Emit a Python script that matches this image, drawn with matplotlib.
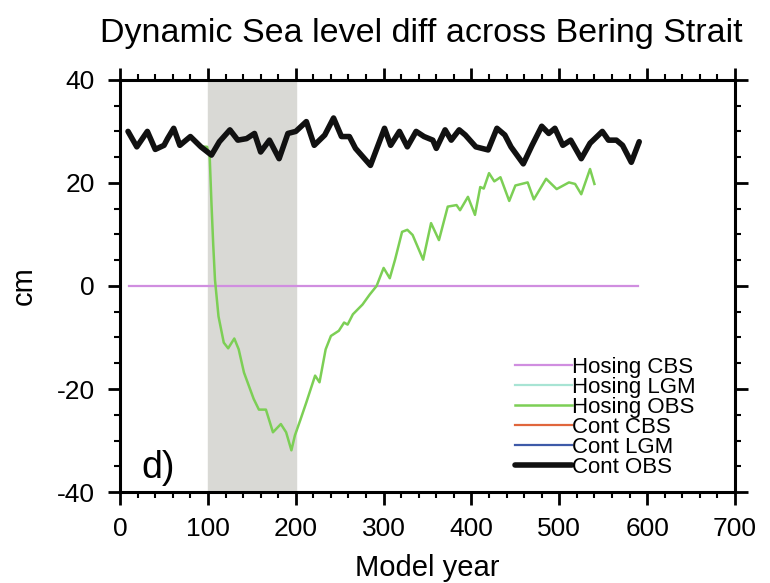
import numpy as np
import matplotlib
matplotlib.use('Agg')
import matplotlib.pyplot as plt

plt.rcParams['font.family'] = ['Liberation Sans', 'DejaVu Sans']

# Cont OBS (black)
cont_obs_years = [9, 19, 31, 40, 50, 54, 61, 68, 80, 92, 104, 113, 125, 134, 144, 153, 160, 170, 181, 191,
                  200, 212, 221, 233, 243, 252, 261, 268, 285, 301, 308, 318, 327, 337, 346, 356, 360, 370,
                  377, 386, 393, 405, 419, 429, 438, 445, 459, 469, 480, 488, 495, 504, 513, 525, 535, 549,
                  556, 565, 572, 582, 591]
cont_obs_vals = [30.0, 27.0, 30.0, 26.5, 27.3, 28.6, 30.6, 27.3, 29.0, 27.0, 25.4, 28.0, 30.3, 28.3, 28.6,
                 29.6, 26.0, 28.3, 24.7, 29.6, 30.0, 31.9, 27.3, 29.3, 32.6, 29.0, 29.0, 26.7, 23.4, 30.6,
                 27.3, 30.0, 27.0, 30.0, 29.0, 28.3, 26.7, 30.3, 28.3, 30.3, 29.3, 27.0, 26.4, 30.6, 29.3,
                 27.0, 23.7, 27.3, 31.0, 29.6, 30.6, 27.3, 28.3, 24.7, 27.7, 30.0, 28.3, 28.3, 27.3, 24.0, 28.0]

# Hosing OBS (green)
hos_obs_years = [90, 99, 102, 104, 106, 108, 112, 118, 123, 130, 135, 141, 152, 158, 166, 174, 183, 189,
                 195, 199, 205, 212, 222, 227, 234, 240, 249, 255, 259, 265, 276, 284, 292, 300, 307, 313,
                 321, 327, 333, 345, 354, 363, 373, 383, 387, 396, 404, 410, 414, 420, 426, 433, 443, 450,
                 464, 471, 485, 497, 511, 518, 525, 535, 540]
hos_obs_vals = [27.1, 27.0, 25.0, 16.0, 8.0, 1.2, -5.9, -11.0, -12.1, -10.2, -12.3, -16.8, -21.9, -24.0,
                -24.0, -28.4, -26.8, -28.4, -31.9, -29.0, -26.1, -22.6, -17.4, -18.7, -12.3, -9.7, -8.7,
                -7.1, -7.5, -5.5, -3.6, -1.7, 0.0, 3.5, 1.5, 5.1, 10.5, 10.9, 9.9, 5.1, 12.2, 8.9, 15.4,
                15.7, 14.7, 17.3, 13.8, 19.2, 18.9, 21.9, 20.3, 21.1, 16.5, 19.5, 20.1, 16.8, 20.8, 18.8,
                20.1, 19.8, 17.8, 22.7, 19.8]

# Hosing CBS (purple)
hos_cbs_years = [10, 590]
hos_cbs_vals = [0, 0]

legend_labels = ['Hosing CBS', 'Hosing LGM', 'Hosing OBS', 'Cont CBS', 'Cont LGM', 'Cont OBS']
legend_colors = ['#d08ee0', '#a8e4d4', '#7ccf55', '#e0663c', '#3e5aa8', '#111111']

fig = plt.figure(figsize=(7.7, 5.83), dpi=100)
ax = fig.add_axes([0.156, 0.156, 0.7985, 0.707])

ax.axvspan(100, 200, color='#d9d9d5', zorder=0)

lines = []
lines.append(ax.plot(hos_cbs_years, hos_cbs_vals, color=legend_colors[0], lw=1.6)[0])
lines.append(ax.plot([], [], color=legend_colors[1], lw=1.6)[0])
lines.append(ax.plot(hos_obs_years, hos_obs_vals, color=legend_colors[2], lw=1.8,
                     solid_joinstyle='round')[0])
lines.append(ax.plot([], [], color=legend_colors[3], lw=1.6)[0])
lines.append(ax.plot([], [], color=legend_colors[4], lw=1.6)[0])
lines.append(ax.plot(cont_obs_years, cont_obs_vals, color=legend_colors[5], lw=4,
                     solid_joinstyle='round', solid_capstyle='round')[0])

ax.set_xlim(0, 700)
ax.set_ylim(-40, 40)
ax.set_xticks(np.arange(0, 701, 100))
ax.set_xticks(np.arange(0, 701, 20), minor=True)
ax.set_yticks(np.arange(-40, 41, 20))
ax.set_yticks(np.arange(-40, 41, 5), minor=True)
ax.set_yticklabels(['-40', '-20', '0', '20', '40'])

for s in ax.spines.values():
    s.set_linewidth(2.2)
ax.tick_params(which='both', direction='out', top=True, right=True, labelsize=19, width=2)
ax.tick_params(which='major', length=9, pad=9)
ax.tick_params(which='minor', length=4.5, width=1.5)

ax.set_xlabel('Model year', fontsize=21, labelpad=9)
ax.set_ylabel('cm', fontsize=21, labelpad=14)
fig.text(0.547, 0.943, 'Dynamic Sea level diff across Bering Strait', fontsize=24.5,
         ha='center', va='center')

ax.text(43, -35.3, 'd)', fontsize=27, ha='center', va='center')

leg = ax.legend(lines, legend_labels, loc='lower left', bbox_to_anchor=(0.642, 0.035),
                frameon=False, fontsize=16, labelspacing=-0.05, handlelength=2.55,
                handletextpad=0.0, borderpad=0, borderaxespad=0)

fig.savefig('out.png', dpi=100)
